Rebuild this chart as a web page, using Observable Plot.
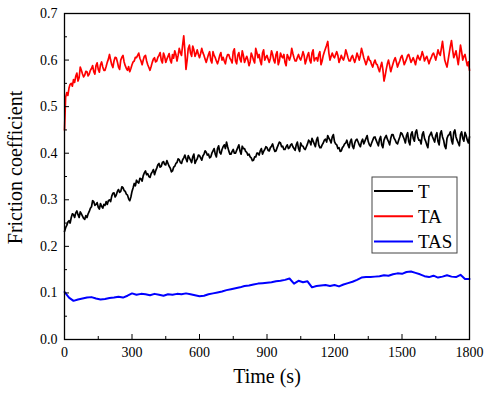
<!DOCTYPE html>
<html><head><meta charset="utf-8">
<script src="https://cdn.jsdelivr.net/npm/d3@7"></script>
<script src="https://cdn.jsdelivr.net/npm/@observablehq/plot@0.6"></script>
<style>body{margin:0;background:#fff} #chart{width:491px;height:393px}
#chart svg text{font-family:'Liberation Serif','Times New Roman',serif}</style>
</head><body><div id="chart"></div>
<script>
const seriesNames = ["T", "TA", "TAS"];
const seriesColors = ["#000000", "#ff0000", "#0000ff"];
const seriesWidths = [1.7, 1.7, 2];
const xTicks = [0, 300, 600, 900, 1200, 1500, 1800];
const xMinorTicks = [150, 450, 750, 1050, 1350, 1650];
const yTicks = [0, 0.1, 0.2, 0.3, 0.4, 0.5, 0.6, 0.7];
const yMinorTicks = [0.05, 0.15, 0.25, 0.35, 0.45, 0.55, 0.65];

// T (black), one value every 5 s from 0 to 1800 s
const valuesT = [
0.232,0.240,0.245,0.252,0.255,0.250,0.262,0.270,0.268,0.262,0.272,0.276,0.268,0.262,0.274,0.270,0.265,0.260,0.258,0.266,
0.262,0.270,0.275,0.282,0.285,0.298,0.296,0.288,0.290,0.294,0.284,0.280,0.292,0.286,0.282,0.290,0.288,0.296,0.290,0.298,
0.300,0.296,0.308,0.314,0.315,0.306,0.310,0.318,0.322,0.316,0.318,0.328,0.326,0.320,0.318,0.312,0.310,0.302,0.298,0.306,
0.318,0.326,0.335,0.330,0.342,0.338,0.336,0.346,0.345,0.340,0.352,0.358,0.362,0.354,0.356,0.350,0.348,0.356,0.360,0.365,
0.354,0.362,0.368,0.375,0.378,0.370,0.372,0.380,0.382,0.376,0.375,0.384,0.378,0.372,0.368,0.360,0.362,0.370,0.372,0.378,
0.380,0.388,0.386,0.380,0.378,0.386,0.390,0.396,0.388,0.382,0.395,0.390,0.385,0.380,0.392,0.398,0.378,0.384,0.388,0.396,
0.395,0.390,0.385,0.394,0.398,0.405,0.402,0.396,0.398,0.390,0.392,0.400,0.405,0.410,0.398,0.392,0.410,0.416,0.402,0.398,
0.408,0.414,0.418,0.410,0.424,0.414,0.405,0.398,0.398,0.404,0.408,0.400,0.400,0.406,0.412,0.418,0.405,0.398,0.415,0.410,
0.410,0.404,0.402,0.396,0.398,0.392,0.390,0.384,0.385,0.392,0.392,0.400,0.400,0.396,0.405,0.410,0.398,0.404,0.408,0.414,
0.412,0.406,0.405,0.412,0.415,0.420,0.410,0.404,0.405,0.412,0.418,0.424,0.422,0.414,0.415,0.408,0.408,0.414,0.418,0.410,
0.412,0.418,0.420,0.414,0.410,0.406,0.418,0.424,0.410,0.404,0.422,0.416,0.415,0.410,0.408,0.414,0.420,0.428,0.425,0.418,
0.432,0.426,0.420,0.414,0.428,0.434,0.418,0.412,0.412,0.418,0.422,0.428,0.430,0.424,0.438,0.432,0.428,0.422,0.435,0.440,
0.425,0.420,0.418,0.410,0.412,0.404,0.405,0.412,0.415,0.420,0.422,0.428,0.418,0.412,0.425,0.430,0.415,0.410,0.422,0.428,
0.430,0.424,0.418,0.414,0.425,0.430,0.420,0.426,0.432,0.438,0.425,0.418,0.415,0.422,0.428,0.434,0.435,0.428,0.422,0.416,
0.430,0.436,0.418,0.412,0.428,0.434,0.438,0.430,0.425,0.418,0.432,0.440,0.440,0.432,0.428,0.422,0.420,0.428,0.435,0.444,
0.442,0.436,0.430,0.422,0.438,0.444,0.425,0.418,0.440,0.446,0.432,0.426,0.445,0.450,0.435,0.428,0.428,0.420,0.440,0.446,
0.432,0.426,0.418,0.412,0.435,0.440,0.445,0.436,0.430,0.424,0.438,0.444,0.425,0.418,0.442,0.448,0.435,0.428,0.415,0.410,
0.432,0.438,0.440,0.446,0.428,0.420,0.445,0.450,0.435,0.428,0.422,0.416,0.440,0.446,0.432,0.426,0.445,0.438,0.428,0.422,
0.435];

// TA (red), one value every 5 s from 0 to 1800 s
const valuesTA = [
0.450,0.520,0.530,0.524,0.540,0.548,0.550,0.544,0.558,0.552,0.565,0.572,0.555,0.562,0.585,0.578,0.570,0.564,0.568,0.576,
0.575,0.566,0.570,0.578,0.582,0.588,0.575,0.570,0.588,0.594,0.580,0.574,0.590,0.596,0.585,0.578,0.578,0.586,0.595,0.602,
0.612,0.600,0.590,0.584,0.598,0.606,0.605,0.596,0.585,0.580,0.600,0.606,0.610,0.596,0.588,0.582,0.578,0.586,0.575,0.582,
0.590,0.596,0.598,0.606,0.605,0.610,0.615,0.604,0.598,0.590,0.600,0.608,0.610,0.598,0.590,0.584,0.578,0.586,0.595,0.602,
0.605,0.596,0.598,0.606,0.610,0.616,0.600,0.594,0.615,0.608,0.595,0.602,0.608,0.614,0.600,0.594,0.612,0.604,0.620,0.612,
0.598,0.610,0.625,0.616,0.610,0.632,0.652,0.620,0.580,0.600,0.625,0.632,0.615,0.608,0.630,0.622,0.608,0.614,0.622,0.612,
0.605,0.614,0.625,0.616,0.610,0.602,0.595,0.604,0.612,0.618,0.600,0.594,0.618,0.610,0.605,0.598,0.592,0.600,0.610,0.616,
0.600,0.606,0.598,0.592,0.605,0.612,0.612,0.604,0.600,0.594,0.618,0.624,0.598,0.592,0.610,0.616,0.602,0.596,0.620,0.610,
0.595,0.602,0.608,0.600,0.588,0.596,0.615,0.608,0.600,0.594,0.625,0.616,0.605,0.612,0.598,0.590,0.615,0.622,0.600,0.606,
0.610,0.602,0.595,0.604,0.620,0.612,0.600,0.594,0.612,0.618,0.590,0.598,0.615,0.608,0.605,0.612,0.595,0.588,0.612,0.606,
0.600,0.608,0.625,0.614,0.605,0.598,0.598,0.606,0.612,0.604,0.600,0.608,0.618,0.610,0.592,0.600,0.610,0.616,0.600,0.594,
0.615,0.622,0.598,0.604,0.605,0.598,0.612,0.618,0.590,0.598,0.610,0.618,0.625,0.632,0.640,0.615,0.600,0.608,0.615,0.608,
0.605,0.612,0.618,0.610,0.595,0.602,0.610,0.604,0.600,0.608,0.622,0.614,0.605,0.598,0.598,0.606,0.610,0.602,0.595,0.604,
0.615,0.608,0.600,0.610,0.625,0.616,0.605,0.598,0.590,0.598,0.608,0.600,0.598,0.590,0.585,0.594,0.600,0.592,0.590,0.582,
0.575,0.586,0.595,0.580,0.555,0.566,0.580,0.592,0.600,0.588,0.575,0.584,0.592,0.600,0.605,0.596,0.585,0.592,0.598,0.606,
0.610,0.600,0.590,0.596,0.602,0.610,0.612,0.604,0.595,0.600,0.605,0.598,0.590,0.602,0.610,0.604,0.600,0.608,0.618,0.610,
0.598,0.604,0.608,0.600,0.592,0.600,0.605,0.612,0.615,0.608,0.600,0.610,0.622,0.614,0.610,0.625,0.640,0.620,0.600,0.592,
0.585,0.600,0.615,0.630,0.642,0.622,0.605,0.612,0.620,0.605,0.590,0.610,0.632,0.618,0.600,0.608,0.612,0.600,0.588,0.596,
0.578];

// TAS (blue), one value every 20 s from 0 to 1800 s
const valuesTAS = [
0.102,0.090,0.083,0.086,0.088,0.090,0.091,0.088,0.086,0.087,
0.089,0.090,0.092,0.090,0.094,0.099,0.096,0.098,0.097,0.095,
0.098,0.096,0.094,0.097,0.096,0.098,0.097,0.099,0.097,0.095,
0.093,0.094,0.097,0.099,0.101,0.103,0.106,0.108,0.110,0.112,
0.115,0.116,0.118,0.120,0.121,0.122,0.123,0.125,0.126,0.128,
0.131,0.120,0.126,0.123,0.125,0.112,0.115,0.116,0.117,0.115,
0.117,0.114,0.118,0.121,0.124,0.128,0.133,0.134,0.134,0.135,
0.136,0.138,0.137,0.140,0.142,0.141,0.145,0.146,0.143,0.140,
0.136,0.134,0.137,0.133,0.135,0.138,0.135,0.134,0.139,0.130,
0.130];

const stepT = 5, stepTA = 5, stepTAS = 20;
const data = [
  ...valuesT.map((v, i) => ({t: i * stepT, v, s: "T"})),
  ...valuesTA.map((v, i) => ({t: i * stepTA, v, s: "TA"})),
  ...valuesTAS.map((v, i) => ({t: i * stepTAS, v, s: "TAS"}))
];

const serif = "'Liberation Serif', 'Times New Roman', serif";

const chart = Plot.plot({
  width: 491, height: 393,
  marginLeft: 64, marginRight: 22, marginTop: 13, marginBottom: 54,
  style: {fontFamily: serif, fontSize: "14px", background: "white", color: "black", overflow: "visible"},
  x: {domain: [0, 1800]},
  y: {domain: [0, 0.7]},
  color: {domain: seriesNames, range: seriesColors},
  marks: [
    ...seriesNames.map((name, i) =>
      Plot.line(data.filter(d => d.s === name), {x: "t", y: "v", stroke: "s", strokeWidth: seriesWidths[i]})),
    Plot.frame({stroke: "black", strokeWidth: 1.3}),
    Plot.axisX(xTicks, {tickSize: -5, tickPadding: 13, tickFormat: d => String(d), label: null, fontSize: 14, fontFamily: serif}),
    Plot.axisX(xMinorTicks, {tickSize: -3, tickFormat: () => "", label: null}),
    Plot.axisY(yTicks, {tickSize: -5, tickPadding: 12, tickFormat: d => d.toFixed(1), label: null, fontSize: 14, fontFamily: serif}),
    Plot.axisY(yMinorTicks, {tickSize: -3, tickFormat: () => "", label: null}),
    Plot.text(["Friction coefficient"], {frameAnchor: "left", textAnchor: "middle", rotate: -90, dx: -49, dy: -9, fontSize: 20, fontFamily: serif}),
    Plot.text(["Time (s)"], {frameAnchor: "bottom", textAnchor: "middle", dy: 43, fontSize: 20, fontFamily: serif})
  ]
});
document.getElementById("chart").appendChild(chart);

// legend box (top-right inside the frame)
const svg = d3.select(chart);
const lg = svg.append("g").attr("transform", "translate(372,177)");
lg.append("rect").attr("width", 85).attr("height", 76).attr("fill", "white").attr("stroke", "#444").attr("stroke-width", 1);
seriesNames.forEach((name, i) => {
  const y = 14 + i * 25.3;
  lg.append("line").attr("x1", 2).attr("x2", 41).attr("y1", y).attr("y2", y)
    .attr("stroke", seriesColors[i]).attr("stroke-width", 2);
  lg.append("text").attr("x", 46).attr("y", y).attr("dy", "0.35em").attr("text-anchor", "start")
    .attr("font-family", serif).attr("font-size", 19).attr("fill", "black").text(name);
});
</script>
</body></html>
